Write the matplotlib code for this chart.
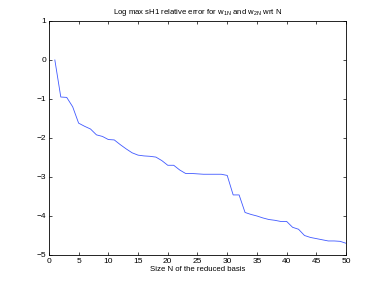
import numpy as np
import matplotlib
matplotlib.use("Agg")
import matplotlib.pyplot as plt

plt.rcParams['font.family'] = ['Liberation Sans', 'DejaVu Sans']
plt.rcParams['mathtext.fontset'] = 'custom'
plt.rcParams['mathtext.rm'] = 'Liberation Sans'

N = np.arange(1, 51)
log_err = [0.0, -0.95, -0.96, -1.20, -1.62, -1.70, -1.77, -1.92, -1.96, -2.04,
           -2.05, -2.17, -2.28, -2.38, -2.44, -2.46, -2.47, -2.49, -2.58, -2.70,
           -2.70, -2.82, -2.91, -2.91, -2.92, -2.93, -2.93, -2.93, -2.93, -2.96,
           -3.46, -3.46, -3.91, -3.96, -4.00, -4.05, -4.09, -4.11, -4.14, -4.14,
           -4.29, -4.34, -4.50, -4.55, -4.58, -4.61, -4.64, -4.64, -4.65, -4.70]

xticks = np.arange(0, 51, 5)
yticks = np.arange(-5, 2, 1)

fig = plt.figure(figsize=(3.82, 2.87), dpi=100)
ax = fig.add_axes([0.128, 0.1115, 0.778, 0.8155])

ax.plot(N, log_err, color=(0.25, 0.35, 1.0), linewidth=0.6)

ax.set_xlim(0, 50)
ax.set_ylim(-5, 1)
ax.set_xticks(xticks)
ax.set_yticks(yticks)
ax.tick_params(direction='in', top=True, right=True, labelsize=6,
               length=2.5, width=0.5, pad=2)
for s in ax.spines.values():
    s.set_linewidth(0.6)

ax.set_xlabel("Size N of the reduced basis", fontsize=5.6, labelpad=1)
ax.set_title(r"Log max sH1 relative error for w$_{\mathrm{1N}}$ and w$_{\mathrm{2N}}$ wrt N",
             fontsize=5.6, pad=5)

fig.savefig("out.png", dpi=100)
